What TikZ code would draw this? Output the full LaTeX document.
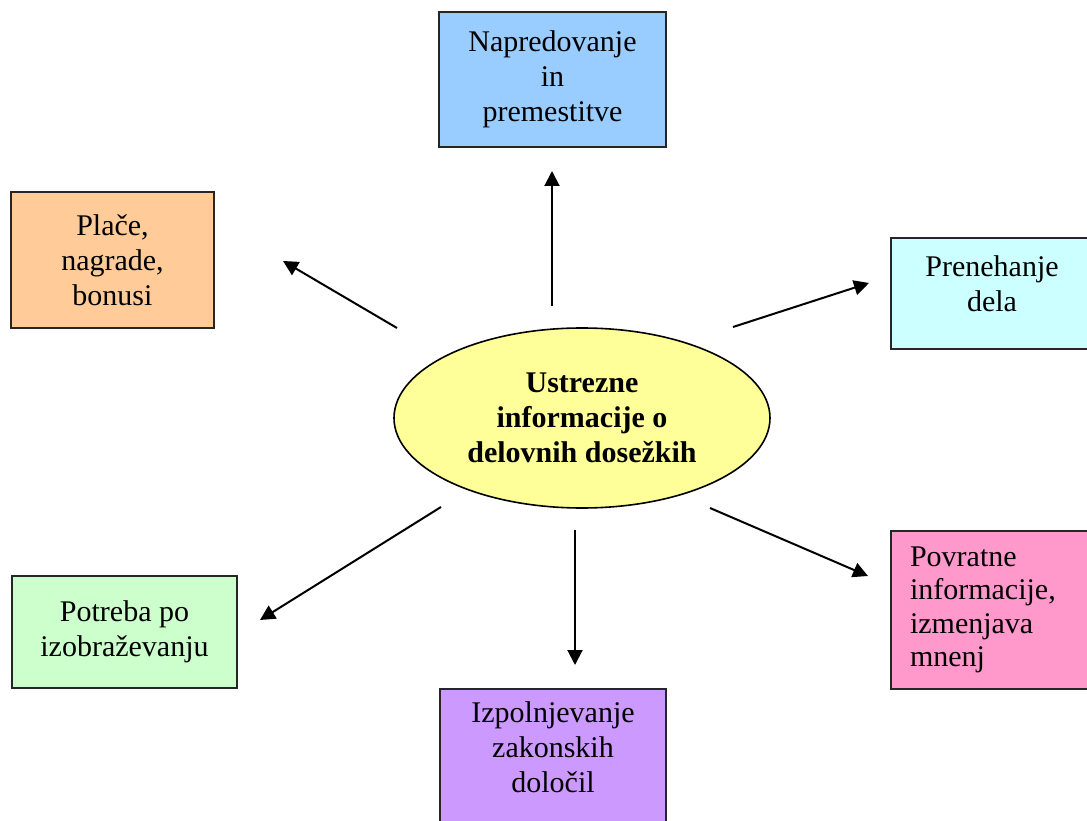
\documentclass[tikz,border=0pt]{standalone}
\usepackage{fontspec}
\setmainfont{Liberation Serif}
\usetikzlibrary{shapes.geometric, arrows.meta}

\definecolor{napredblue}{HTML}{99CCFF}
\definecolor{placepeach}{HTML}{FFCC99}
\definecolor{prenehcyan}{HTML}{CCFFFF}
\definecolor{potrebagreen}{HTML}{CCFFCC}
\definecolor{povratpink}{HTML}{FF99CC}
\definecolor{izpolviolet}{HTML}{CC99FF}
\definecolor{centeryellow}{HTML}{FFFF99}

\tikzset{
  infobox/.style={draw=black!85, line width=2pt, rectangle, inner sep=0pt,
    align=center, font=\fontsize{30}{35}\selectfont},
  arr/.style={line width=2pt, -{Triangle[length=15pt,width=15pt]}}
}

\begin{document}
\begin{tikzpicture}[x=1pt,y=-1pt]
    % Fix the page size
    \useasboundingbox (0,0) rectangle (1087,821);

    % Draw the central ellipse
    \node[ellipse, draw, line width=1.6pt, fill=centeryellow, inner sep=0pt,
      minimum width=376pt, minimum height=180pt, align=center,
      font=\bfseries\fontsize{30}{35}\selectfont] (center) at (582,418)
      {Ustrezne\\informacije o\\delovnih dosežkih};

    % Draw the outer boxes
    \node[infobox, fill=napredblue, minimum width=227pt, minimum height=135pt] (napred) at (552.5,79.5) {Napredovanje\\in\\premestitve};
    \node[infobox, fill=placepeach, minimum width=203pt, minimum height=136pt] (place) at (112.5,260) {Plače,\\nagrade,\\bonusi};
    \node[infobox, fill=prenehcyan, minimum width=202pt, minimum height=111pt, text depth=20pt] (preneh) at (992,293.5) {Prenehanje\\dela};
    \node[infobox, fill=potrebagreen, minimum width=225pt, minimum height=112pt] (potreba) at (124.5,632) {Potreba po\\izobraževanju};
    \node[infobox, fill=povratpink, align=left, inner xsep=19pt, text width=164pt,
      minimum height=158pt, font=\fontsize{30}{33.5}\selectfont] (povrat) at (992,610) {Povratne\\informacije,\\izmenjava\\mnenj};
    \node[infobox, fill=izpolviolet, minimum width=226pt, minimum height=135pt, text depth=18pt] (izpol) at (553,756.5) {Izpolnjevanje\\zakonskih\\določil};

    % Arrow end points
    \coordinate (napred-from) at (552,306);
    \coordinate (napred-to) at (552,171);
    \coordinate (place-from) at (397,328);
    \coordinate (place-to) at (283,261);
    \coordinate (preneh-from) at (733,327);
    \coordinate (preneh-to) at (869,283);
    \coordinate (potreba-from) at (441,507);
    \coordinate (potreba-to) at (260,620);
    \coordinate (povrat-from) at (710,508);
    \coordinate (povrat-to) at (868,576);
    \coordinate (izpol-from) at (575,530);
    \coordinate (izpol-to) at (575,665);

    % Draw the arrows
    \foreach \target in {napred, place, preneh, potreba, povrat, izpol}
      \draw[arr] (\target-from) -- (\target-to);
\end{tikzpicture}
\end{document}
